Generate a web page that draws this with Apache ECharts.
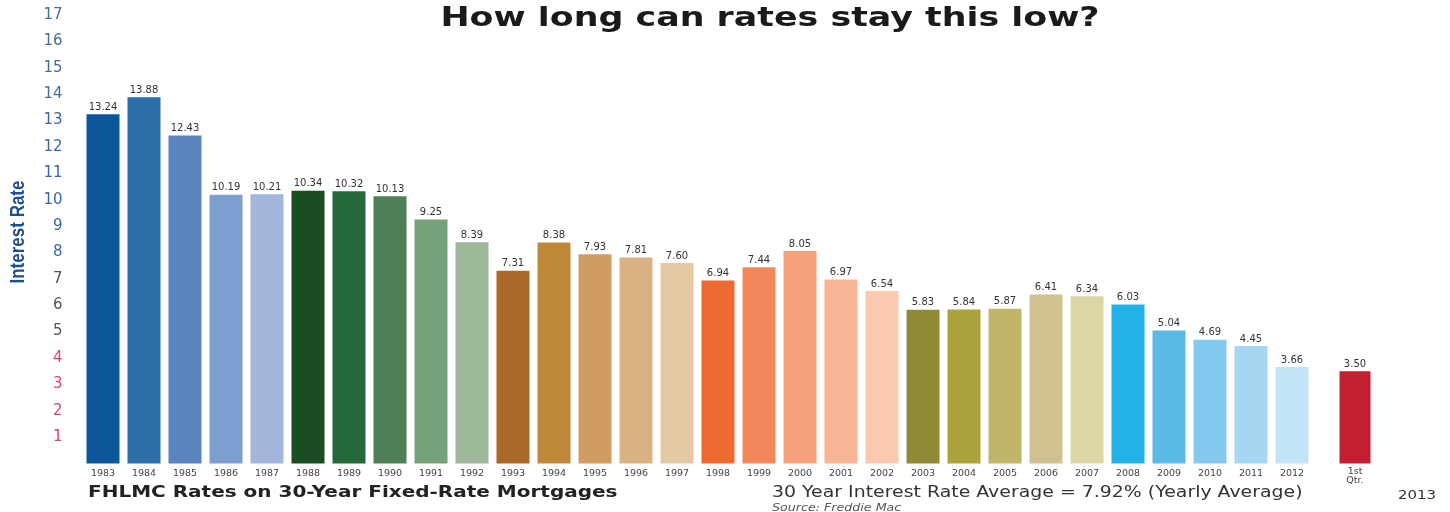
<!DOCTYPE html>
<html>
<head>
<meta charset="utf-8">
<script src="https://cdn.jsdelivr.net/npm/echarts@6/dist/echarts.min.js"></script>
<style>
html,body{margin:0;padding:0;background:#fff;}
#chart{width:1450px;height:512px;}
</style>
</head>
<body>
<div id="chart"></div>
<script>
const years = ['1983','1984','1985','1986','1987','1988','1989','1990','1991','1992',
  '1993','1994','1995','1996','1997','1998','1999','2000','2001','2002',
  '2003','2004','2005','2006','2007','2008','2009','2010','2011','2012'];
const rates = [13.24,13.88,12.43,10.19,10.21,10.34,10.32,10.13,9.25,8.39,
  7.31,8.38,7.93,7.81,7.60,6.94,7.44,8.05,6.97,6.54,
  5.83,5.84,5.87,6.41,6.34,6.03,5.04,4.69,4.45,3.66];
const barColors = ['#0a5699','#2a6eaa','#5a84bd','#7d9fcf','#a3b5da',
  '#1b4d25','#25693a','#4f7f57','#76a07a','#9db99a',
  '#a9692a','#bf8838','#cf9c62','#d9b183','#e3c9a4',
  '#ee6a33','#f2885a','#f5a27c','#f7b596','#f9c9b0',
  '#8f8a35','#aaa23a','#c1b56a','#cfc28f','#ddd5a6',
  '#23b1e6','#5bb9e6','#84c9ee','#a5d6f2','#c3e3f6'];
const qtrCategory = ['1st\nQtr.'];
const qtrRate = [3.50];
const qtrColor = '#c21f32';
const yMin = 0, yMax = 17, yStep = 1;

const title = 'How long can rates stay this low?';
const yName = 'Interest Rate';
const footLeft = 'FHLMC Rates on 30-Year Fixed-Rate Mortgages';
const footRight = '30 Year Interest Rate Average = 7.92% (Yearly Average)';
const source = 'Source: Freddie Mac';
const qtrYear = '2013';

function tickColor(v){
  v = Number(v);
  if (v >= 14) return '#4a6b9e';
  if (v >= 8) return '#3d65a6';
  if (v >= 5) return '#555555';
  return '#d8407f';
}

const chart = echarts.init(document.getElementById('chart'));
const labelStyle = {show:true, position:'top', distance:2, fontSize:10, color:'#333', fontFamily:'DejaVu Sans',
  formatter: p => p.value.toFixed(2)};

chart.setOption({
  animation:false,
  backgroundColor:'#fff',
  grid:[
    {left:82.5, right:137.5, top:15, bottom:48.5},
    {left:1334.5, width:41, top:15, bottom:48.5}
  ],
  xAxis:[
    {type:'category', gridIndex:0, data:years, axisLine:{show:false}, axisTick:{show:false},
      axisLabel:{fontSize:9.5, color:'#444', margin:5, fontFamily:'DejaVu Sans'}},
    {type:'category', gridIndex:1, data:qtrCategory, axisLine:{show:false}, axisTick:{show:false},
      axisLabel:{fontSize:9.5, color:'#444', margin:4, lineHeight:9, fontFamily:'DejaVu Sans'}}
  ],
  yAxis:[
    {type:'value', gridIndex:0, min:yMin, max:yMax, interval:yStep, splitLine:{show:false},
      axisLine:{show:false}, axisTick:{show:false},
      axisLabel:{margin:20, fontSize:15, fontFamily:'DejaVu Sans',
        formatter: v => v === 0 ? '' : String(v), color: v => tickColor(v)}},
    {type:'value', gridIndex:1, min:yMin, max:yMax, interval:yStep, show:false}
  ],
  series:[
    {type:'bar', xAxisIndex:0, yAxisIndex:0, barWidth:33,
      data: rates.map((v,i)=>({value:v, itemStyle:{color:barColors[i]}})),
      label: labelStyle},
    {type:'bar', xAxisIndex:1, yAxisIndex:1, barWidth:31,
      data: qtrRate.map(v=>({value:v, itemStyle:{color:qtrColor}})),
      label: labelStyle}
  ],
  graphic:[
    {type:'text', x:770, y:19, scaleX:1.29,
      style:{text:title, fill:'#1a1a1a', font:'bold 27px "DejaVu Sans"', textAlign:'center', textVerticalAlign:'middle'}},
    {type:'text', x:18, y:232, rotation:Math.PI/2, scaleX:0.85,
      style:{text:yName, fill:'#1d4f91', font:'bold 20px "Liberation Sans"', textAlign:'center', textVerticalAlign:'middle'}},
    {type:'text', x:88, y:493, scaleX:1.25,
      style:{text:footLeft, fill:'#222', font:'bold 16px "DejaVu Sans"', textAlign:'left', textVerticalAlign:'middle'}},
    {type:'text', x:772, y:493, scaleX:1.26,
      style:{text:footRight, fill:'#333', font:'15px "DejaVu Sans"', textAlign:'left', textVerticalAlign:'middle'}},
    {type:'text', x:772, y:503, scaleX:1.15,
      style:{text:source, fill:'#555', font:'italic 11px "DejaVu Sans"', textAlign:'left', textVerticalAlign:'top'}},
    {type:'text', x:1398, y:496, scaleX:1.15,
      style:{text:qtrYear, fill:'#333', font:'13px "DejaVu Sans"', textAlign:'left', textVerticalAlign:'middle'}}
  ]
});
</script>
</body>
</html>
